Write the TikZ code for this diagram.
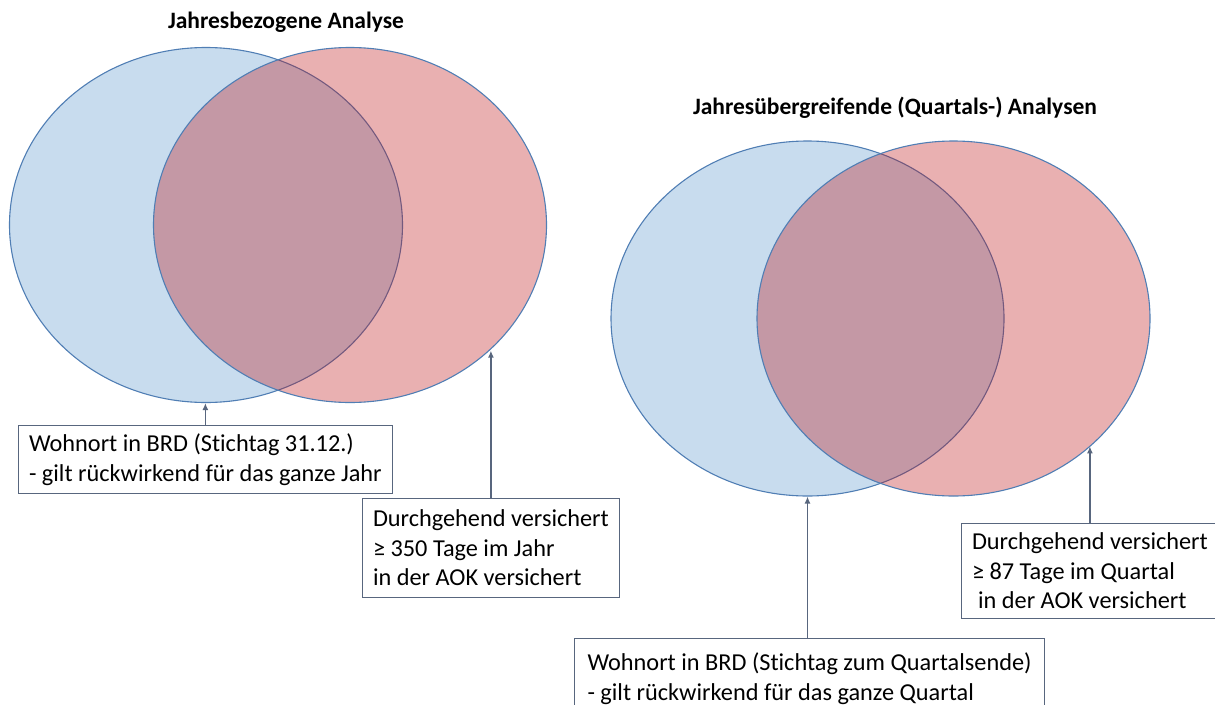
\documentclass[tikz,border=0pt]{standalone}
\usepackage{fontspec}
\setmainfont{Carlito}[Ligatures=NoCommon]
\usetikzlibrary{positioning}
\usetikzlibrary{arrows.meta}
\usetikzlibrary{shapes.geometric}
\tikzset{>=latex}
\definecolor{myblue}{RGB}{200,220,238}
\definecolor{myred}{RGB}{188,15,18}
\definecolor{myedge}{RGB}{80,126,180}
\definecolor{myframe}{RGB}{88,102,126}
\tikzstyle{myset}=[ellipse,draw=myedge,line width=1.1pt,inner sep=0pt,
                   minimum width=393pt,minimum height=355pt]
\tikzstyle{mybluset}=[myset,fill=myblue]
\tikzstyle{myredset}=[myset,fill=myred,fill opacity=0.33,draw opacity=1]
\tikzstyle{mytitle}=[font=\fontsize{23.5}{28}\selectfont\bfseries,inner sep=0pt]
\tikzstyle{mybox}=[draw=myframe,fill=white,line width=1pt,anchor=north west,
                   align=left,inner xsep=10.5pt,inner ysep=0pt,minimum height=#1,
                   font=\fontsize{24.3}{29.5}\selectfont]
\tikzstyle{myarrow}=[-{Latex[length=7pt,width=6pt]},myframe,line width=1.4pt]

\begin{document}
\begin{tikzpicture}[x=1pt,y=-1pt]
  \useasboundingbox (0,0) rectangle (1215,704);

  % left: jahresbezogen
  \node[mytitle] (titleA) at (286,22) {Jahresbezogene Analyse};
  \node[mybluset] (blueA) at (206,225) {};
  \node[myredset] (redA) at (350,225) {};

  \node[mybox=68pt] (wohnA) at (18,425) {
    Wohnort in BRD (Stichtag 31.12.)\\
    - gilt rückwirkend für das ganze Jahr
  };
  \draw[myarrow] (wohnA.north) -- (wohnA.north |- blueA.south);

  \node[mybox=99pt] (durchA) at (362,498) {
    Durchgehend versichert\\
    ≥ 350 Tage im Jahr\\
    in der AOK versichert
  };
  \draw[myarrow] (durchA.north) -- (durchA.north |- redA.-42);

  % right: jahresuebergreifend
  \node[mytitle] (titleB) at (895,108) {Jahresübergreifende (Quartals-) Analysen};
  \node[mybluset] (blueB) at (807.5,318.5) {};
  \node[myredset] (redB) at (953.5,318.5) {};

  \node[mybox=80pt,inner xsep=13pt] (wohnB) at (574,638) {
    Wohnort in BRD (Stichtag zum Quartalsende)\\
    - gilt rückwirkend für das ganze Quartal
  };
  \draw[myarrow] (wohnB.north -| blueB.south) -- (blueB.south);

  \node[mybox=95pt] (durchB) at (961,523) {
    Durchgehend versichert\\
    ≥ 87 Tage im Quartal\\
    \hspace*{0.25em}in der AOK versichert
  };
  \draw[myarrow] (durchB.north) -- (durchB.north |- redB.-43.5);

\end{tikzpicture}
\end{document}
